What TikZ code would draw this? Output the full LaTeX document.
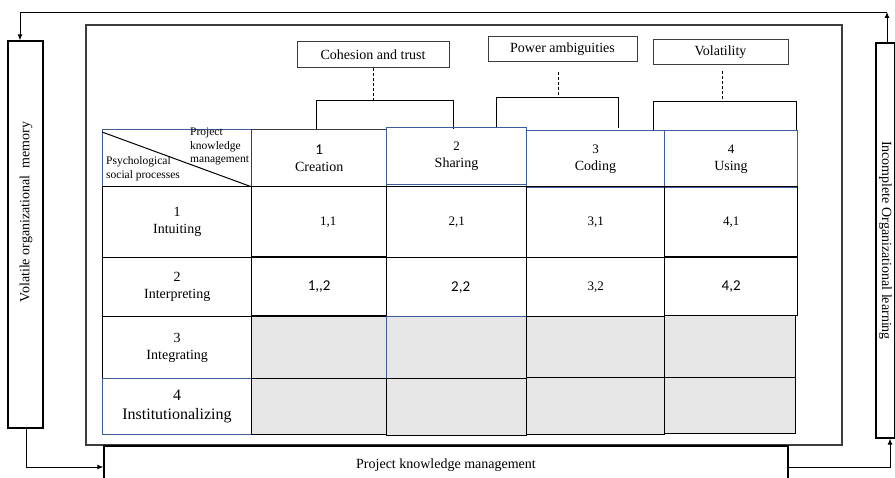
\documentclass[tikz,border=0pt]{standalone}
\usepackage{fontspec}
\setmainfont{Liberation Serif}
\newfontfamily\calibri{Carlito}
\newcommand\numsize{\fontsize{13}{16}\selectfont}
\usetikzlibrary{arrows.meta,positioning,calc}
\definecolor{cellblue}{RGB}{62, 92, 155}
\definecolor{cellgray}{RGB}{230,230,230}
\definecolor{framegray}{RGB}{60, 60, 60}
\tikzset{
  % outer frame and side boxes
  frameline/.style = {line width=1.2pt, draw=framegray},
  sidebox/.style   = {draw=black, line width=1.3pt, inner sep=0pt},
  sidetext/.style  = {font=\fontsize{14}{16}\selectfont, inner sep=0pt},
  % boxes over the table
  topbox/.style    = {draw=framegray, line width=1pt, inner sep=0pt,
                      font=\fontsize{14}{16}\selectfont},
  bracket/.style   = {line width=1pt, draw=black},
  dashlink/.style  = {line width=1pt, dash pattern=on 3pt off 2pt},
  % table cells
  cellbox/.style   = {draw=black, line width=1.4pt, anchor=north west, inner sep=0pt,
                      align=center, font=\fontsize{14}{17}\selectfont},
  bluecell/.style  = {cellbox, draw=cellblue, line width=1pt},
  headcell/.style  = {cellbox, draw=framegray},
  graycell/.style  = {cellbox, fill=cellgray},
  numtxt/.style    = {font=\numsize},
  calitxt/.style   = {font=\calibri\fontsize{15}{17}\selectfont},
  smalltxt/.style  = {inner sep=0pt, align=left, font=\fontsize{11.5}{13.5}\selectfont},
  % arrows between boxes
  arrowline/.style = {-{Latex[length=6pt,width=5pt]}, line width=0.9pt},
}
\begin{document}
\begin{tikzpicture}[x=1pt, y=-1pt]
  \useasboundingbox (0,0) rectangle (895,478);
  % outer frame
  \draw[frameline] (86,25) rectangle (842,445);
  % side boxes
  \node[sidebox, minimum width=35pt, minimum height=387pt] (vmem) at (25.5,234.5) {};
  \node[sidetext, rotate=90] (vmemtxt) at (26,212) {Volatile organizational\ \ memory};
  \node[sidebox, minimum width=395pt, minimum height=19pt, rotate=-90] (iolearn) at (885.5,240.5)
    {\fontsize{14}{16}\selectfont Incomplete Organizational learning};
  % bottom box
  \node[sidebox, minimum width=684pt, minimum height=38pt,
        font=\fontsize{14}{16}\selectfont] (pkm) at (446,465) {Project knowledge management};
  % boxes over the table
  \node[topbox, minimum width=152pt, minimum height=26pt] (cohesion) at (373,55) {Cohesion and trust};
  \node[topbox, minimum width=149pt, minimum height=25pt] (power) at (562.5,49.5) {Power ambiguities};
  \node[topbox, minimum width=135pt, minimum height=25pt] (volat) at (720.5,52.5) {Volatility};
  % bracket points
  \coordinate (cohB) at (373,101);
  \coordinate (powB) at (558,98);
  \coordinate (volB) at (722,102);
  \draw[dashlink] (cohesion.south) -- (cohB);
  \draw[dashlink, shorten <=10pt] (power.south -| powB) -- (powB);
  \draw[dashlink, shorten <=6pt] (volat.south -| volB) -- (volB);
  \draw[bracket] (316,129) -- (316,101) -- (453,101) -- (453,129);
  \draw[bracket] (496,128) -- (496,98) -- (618,98) -- (618,128);
  \draw[bracket] (653,130) -- (653,102) -- (796,102) -- (796,130);
  % table: header row
  \node[bluecell, minimum width=149pt, minimum height=57pt] (corner) at (102,129) {};
  \draw[line width=1pt] ([yshift=-3pt]corner.north west) -- (corner.south east);
  \node[smalltxt, anchor=north west] (pkmhead) at (190,128) {Project\\knowledge\\management};
  \node[smalltxt, anchor=south west] (psyhead) at (106,181) {Psychological\\social processes};
  \node[headcell, minimum width=135pt, minimum height=57pt] (hCre) at (251,129) {{\calibri\fontsize{15}{17}\selectfont 1}\\Creation};
  \node[bluecell, minimum width=140pt, minimum height=57pt] (hSha) at (386,127) {{\numsize 2}\\Sharing};
  \node[bluecell, minimum width=138pt, minimum height=57pt] (hCod) at (526,130) {{\numsize 3}\\Coding};
  \node[bluecell, minimum width=133pt, minimum height=57pt] (hUse) at (664,130) {{\numsize 4}\\Using};
  % table: row labels
  \node[cellbox, minimum width=149pt, minimum height=71pt] (rInt1) at (102,186) {1\\Intuiting};
  \node[cellbox, minimum width=149pt, minimum height=59pt] (rInt2) at (102,257) {2\\Interpreting};
  \node[cellbox, minimum width=149pt, minimum height=62pt] (rInt3) at (102,316) {3\\Integrating};
  \node[bluecell, minimum width=149pt, minimum height=56pt,
        font=\fontsize{16}{19}\selectfont] (rInt4) at (102,378) {4\\Institutionalizing};
  % table: first two rows
  \node[cellbox, minimum width=135pt, minimum height=71pt, numtxt] (c11) at (251,186) {\hspace{18pt}1,1};
  \node[cellbox, minimum width=140pt, minimum height=71pt, numtxt] (c21) at (386,186) {2,1};
  \node[cellbox, minimum width=138pt, minimum height=71pt, numtxt] (c31) at (526,186) {3,1};
  \node[cellbox, minimum width=133pt, minimum height=71pt, numtxt] (c41) at (664,186) {4,1};
  \node[cellbox, minimum width=135pt, minimum height=59pt, calitxt] (c12) at (251,256) {1,,2};
  \node[cellbox, minimum width=140pt, minimum height=59pt, calitxt] (c22) at (386,257) {\hspace{8pt}2,2};
  \node[cellbox, minimum width=138pt, minimum height=59pt, numtxt] (c32) at (526,257) {3,2};
  \node[cellbox, minimum width=133pt, minimum height=59pt, calitxt] (c42) at (664,256) {4,2};
  % table: empty gray rows
  \node[graycell, minimum width=135pt, minimum height=62pt] (c13) at (251,316) {};
  \node[graycell, draw=cellblue, line width=1pt, minimum width=140pt, minimum height=62pt] (c23) at (386,316) {};
  \node[graycell, minimum width=138pt, minimum height=62pt] (c33) at (526,316) {};
  \node[graycell, minimum width=131pt, minimum height=62pt] (c43) at (664,315) {};
  \node[graycell, minimum width=135pt, minimum height=56pt] (c14) at (251,378) {};
  \node[graycell, minimum width=140pt, minimum height=57pt] (c24) at (386,378) {};
  \node[graycell, minimum width=138pt, minimum height=57pt] (c34) at (526,377) {};
  \node[graycell, minimum width=131pt, minimum height=56pt] (c44) at (664,377) {};
  % feedback arrows
  \coordinate (topR) at (887,12);
  \coordinate (topL) at (20,12);
  \coordinate (botL) at (26,467);
  \coordinate (botR) at (890,467);
  \draw[arrowline] (iolearn.west -| topR) -- (topR);
  \draw[arrowline] (topR) -- (topL) -- (vmem.north -| topL);
  \draw[arrowline] (vmem.south -| botL) -- (botL) -- (pkm.west |- botL);
  \draw[arrowline] (pkm.east |- botR) -- (botR) -- (iolearn.east -| botR);
\end{tikzpicture}
\end{document}
